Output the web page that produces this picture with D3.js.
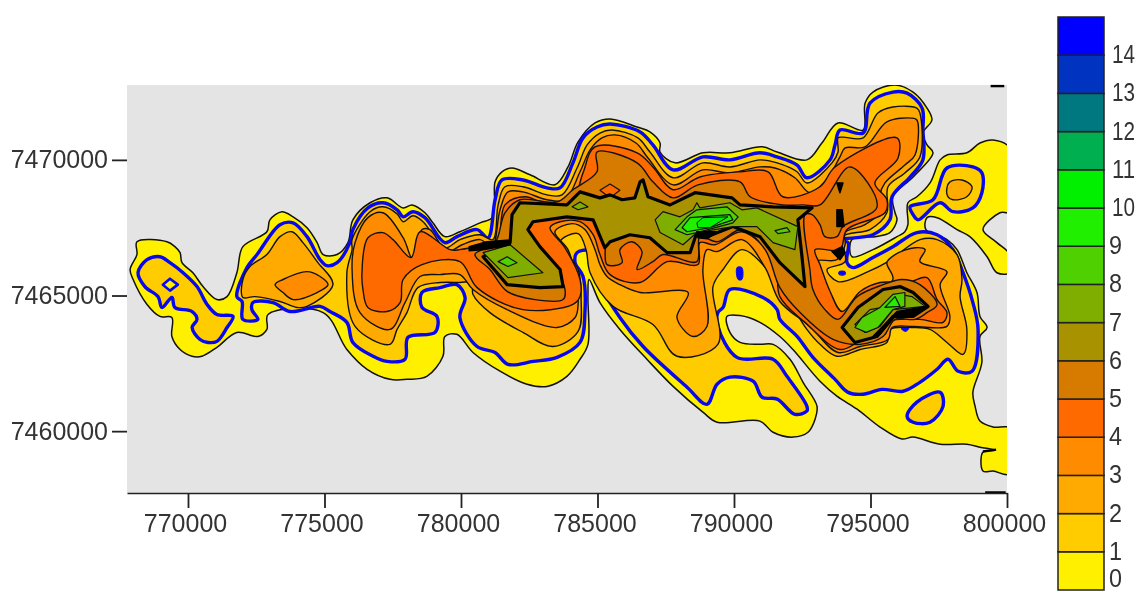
<!DOCTYPE html>
<html><head><meta charset="utf-8">
<script src="https://cdn.jsdelivr.net/npm/d3@7/dist/d3.min.js"></script>
<style>html,body{margin:0;padding:0;background:#fff;overflow:hidden}svg{display:block;filter:blur(0.4px)}text{font-family:"Liberation Sans",Arial,sans-serif;fill:#333}</style>
</head><body><svg id="c" width="1139" height="593"></svg>
<script>
// Contour vertices are [easting, northing] in km relative to the map origin below.
const originE=770000, originN=7460000;
const xTicks=[770000,775000,780000,785000,790000,795000,800000];
const yTicks=[7460000,7465000,7470000];
const legendLevels=[0,1,2,3,4,5,6,7,8,9,10,11,12,13,14];
const levelColors=["#fff000","#ffcc00","#ffaa00","#ff8c00","#ff6a00","#d67a00","#a89200","#7fae00","#4fd000","#20f000","#00f000","#00b050","#007880","#0033c0","#0000ff"];

const level0=[[[-1.87,6.98],[-0.77,6.98],[-0.48,6.80],[-0.29,6.58],[-0.22,6.21],[0.18,5.84],[0.55,5.33],[1.06,4.85],[1.43,4.96],[1.79,5.84],[2.01,6.80],[2.89,7.35],[3.00,7.79],[3.44,8.09],[3.85,7.90],[4.36,7.50],[4.73,6.95],[4.95,6.51],[5.46,6.51],[5.86,6.95],[6.04,7.79],[6.67,8.42],[7.29,8.60],[7.88,8.23],[8.21,8.34],[8.68,8.05],[8.97,7.68],[9.41,7.17],[9.96,7.35],[10.70,7.68],[11.17,7.90],[11.25,9.19],[11.50,9.56],[11.87,9.70],[12.53,9.45],[13.44,9.08],[13.92,9.74],[14.29,10.66],[14.91,11.36],[15.46,11.51],[16.45,11.21],[16.92,11.03],[17.29,10.62],[17.29,10.29],[17.84,9.89],[18.86,10.26],[19.85,10.26],[21.03,10.48],[21.58,10.29],[22.67,10.00],[23.22,10.62],[23.81,11.36],[24.73,11.10],[24.80,12.09],[25.09,12.50],[25.90,12.76],[26.56,12.50],[27.07,11.91],[27.25,11.47],[26.92,10.99],[27.07,10.55],[27.29,10.26],[26.56,9.37],[25.82,8.64],[25.90,8.05],[25.97,7.79],[25.71,7.32],[25.16,7.17],[24.32,7.06],[24.32,6.43],[25.09,6.69],[25.97,7.17],[26.26,7.35],[26.37,7.61],[26.37,8.42],[26.70,8.64],[27.18,9.15],[27.55,10.00],[27.80,10.18],[28.53,10.26],[29.01,10.62],[29.49,10.73],[30.10,10.44],[30.10,8.09],[29.74,8.05],[29.12,7.43],[29.63,6.95],[30.10,6.51],[30.10,5.84],[29.63,5.84],[29.27,6.43],[28.64,7.17],[28.17,7.43],[27.44,7.87],[27.07,7.87],[27.03,7.43],[27.80,7.06],[28.17,6.69],[28.53,5.84],[28.90,5.11],[29.01,4.23],[29.27,3.82],[29.01,3.49],[29.08,2.54],[28.75,1.43],[28.83,0.92],[29.01,0.37],[29.49,0.15],[30.10,0.11],[30.10,-1.58],[29.49,-1.47],[29.12,-1.47],[29.12,-0.77],[29.56,-0.70],[29.01,-0.59],[28.53,-0.48],[27.55,-0.48],[26.56,-0.22],[26.15,-0.29],[25.35,0.15],[24.51,0.81],[23.77,1.29],[23.15,1.84],[22.16,3.01],[21.68,3.49],[20.95,4.01],[20.22,4.26],[19.74,4.23],[19.85,3.64],[20.22,3.27],[20.95,3.20],[21.43,3.20],[22.05,2.65],[22.53,1.80],[23.04,0.92],[22.97,0.44],[22.71,-0.04],[22.16,-0.22],[21.43,-0.04],[20.95,0.37],[19.38,0.33],[18.86,0.70],[17.77,1.65],[16.81,2.65],[15.82,3.75],[15.09,4.74],[14.69,5.59],[14.65,4.96],[14.65,3.20],[14.36,2.65],[13.88,2.02],[13.15,1.65],[12.42,1.73],[11.43,2.21],[10.44,2.90],[9.85,3.57],[9.41,3.49],[9.34,2.76],[8.75,2.02],[8.02,1.91],[7.40,1.91],[6.56,2.28],[5.82,3.01],[4.95,4.37],[2.93,4.30],[2.89,3.75],[2.56,3.49],[1.79,3.64],[1.06,3.09],[0.51,2.76],[0.15,2.76],[-0.29,3.01],[-0.59,3.49],[-0.59,4.19],[-1.03,4.23],[-1.50,4.67],[-2.01,5.59],[-2.12,5.96],[-1.87,6.51]]];

const level1=[
[[-1.83,5.84],[-1.50,6.32],[-1.03,6.43],[-0.66,6.21],[-0.18,5.84],[0.33,5.33],[0.70,4.67],[1.06,4.30],[1.65,4.23],[1.43,3.82],[1.06,3.31],[0.73,3.27],[0.44,3.38],[0.15,3.82],[0.33,4.12],[0.15,4.41],[-0.48,4.56],[-0.59,4.93],[-0.95,4.56],[-1.10,4.96],[-1.58,5.33]],
[[1.79,4.96],[2.16,6.03],[2.53,6.51],[3.37,7.61],[3.85,7.68],[4.36,7.17],[4.84,6.32],[5.09,6.10],[5.46,6.21],[5.93,6.95],[6.04,7.43],[6.59,8.23],[7.14,8.42],[7.66,8.16],[7.88,7.90],[8.24,8.09],[8.68,7.87],[9.41,6.95],[9.85,7.17],[10.59,7.43],[10.99,7.13],[11.25,8.53],[11.50,9.26],[12.27,9.26],[13.15,8.97],[13.63,8.97],[14.10,9.89],[14.47,10.81],[14.98,11.21],[15.46,11.32],[16.56,11.03],[17.03,10.55],[17.77,9.63],[18.86,10.11],[19.85,10.00],[20.95,10.26],[21.58,10.11],[22.31,9.81],[22.67,9.34],[23.52,10.00],[23.70,10.55],[23.88,11.10],[24.73,10.99],[24.98,12.09],[25.82,12.50],[26.34,12.46],[26.89,11.91],[26.92,11.10],[26.92,10.00],[26.45,9.37],[25.79,8.64],[25.71,7.79],[25.09,7.24],[23.96,7.06],[24.18,6.95],[24.14,6.21],[24.36,6.03],[25.09,6.40],[25.82,6.80],[26.70,7.32],[27.44,7.24],[28.02,6.69],[28.39,5.84],[28.75,4.74],[28.94,3.75],[28.72,2.21],[28.21,2.21],[27.84,2.65],[27.44,2.28],[26.81,1.80],[26.19,1.47],[25.42,1.54],[24.73,1.36],[24.18,1.43],[23.70,1.91],[22.89,2.72],[22.31,3.49],[21.68,4.12],[21.58,4.48],[21.06,4.93],[19.85,5.22],[19.60,4.56],[19.41,4.37],[19.41,3.86],[20.11,2.72],[21.43,2.65],[21.94,2.02],[22.67,0.92],[22.67,0.74],[22.23,0.62],[21.58,1.18],[21.03,1.25],[20.70,1.84],[19.85,1.99],[19.38,1.73],[19.01,0.99],[18.28,1.62],[16.67,3.12],[15.82,4.19],[14.73,6.07],[14.65,6.65],[14.25,6.58],[14.18,6.21],[14.47,5.70],[14.54,4.37],[14.36,3.27],[13.52,2.72],[12.64,2.57],[11.72,2.46],[11.25,2.90],[10.59,3.12],[9.96,4.19],[10.15,4.93],[9.85,5.40],[9.23,5.29],[8.57,5.11],[8.57,4.56],[9.12,4.23],[9.05,3.64],[8.06,3.46],[7.95,2.65],[7.29,2.57],[6.78,2.76],[6.04,3.27],[5.82,4.01],[5.20,4.41],[4.84,4.60],[3.74,4.41],[3.11,4.74],[2.38,4.74],[2.34,4.48],[2.56,4.12],[2.01,4.12],[1.98,4.78]],
[[26.45,8.27],[27.29,8.53],[27.80,9.70],[28.75,9.74],[29.08,9.52],[29.08,8.79],[28.75,8.23],[28.02,8.09],[27.55,8.42],[26.74,7.79],[26.56,7.98]],
[[26.34,0.55],[26.70,1.07],[27.55,1.43],[27.66,0.92],[27.18,0.33],[26.56,0.33]]];
const level1Holes=[[[-0.92,5.40],[-0.66,5.62],[-0.37,5.40],[-0.66,5.18]]];
const blueSpots=[[[20.11,6.03],[20.29,6.03],[20.29,5.59],[20.15,5.59]],[[23.85,5.88],[24.07,5.88],[24.07,5.77],[23.85,5.77]],[[26.15,3.86],[26.30,4.01],[26.41,3.82],[26.30,3.68],[26.15,3.75]]];

const level2=[
[[2.01,5.59],[2.27,6.07],[2.89,6.51],[3.37,7.17],[3.81,7.35],[4.21,6.95],[4.73,6.25],[5.31,5.40],[4.36,4.60],[3.99,4.56],[3.37,4.78],[2.45,4.96],[2.01,4.93]],
[[27.80,8.97],[27.91,9.19],[28.35,9.26],[28.72,9.01],[28.53,8.64],[28.02,8.53],[27.84,8.64]],
[[5.82,5.84],[6.01,6.69],[6.01,7.06],[6.67,8.09],[7.14,8.27],[7.66,8.01],[7.88,7.72],[8.24,7.94],[8.61,7.72],[9.41,6.76],[9.96,7.06],[10.70,7.24],[11.17,7.06],[11.36,8.34],[11.61,9.01],[12.27,9.01],[13.15,8.71],[13.70,8.71],[14.25,9.70],[14.62,10.55],[15.09,10.99],[15.53,11.10],[16.48,10.81],[16.92,10.29],[17.77,9.34],[18.86,9.89],[19.85,9.74],[20.95,10.00],[21.58,9.89],[22.31,9.56],[22.67,9.15],[23.59,9.89],[23.81,10.29],[23.81,10.81],[23.99,10.84],[24.73,10.81],[25.27,11.73],[25.82,11.95],[26.70,11.91],[26.81,11.73],[26.81,10.11],[26.26,9.52],[25.64,9.01],[25.60,8.05],[24.98,7.43],[23.99,7.17],[24.07,6.25],[23.41,5.96],[23.81,5.51],[24.91,5.88],[25.64,6.25],[26.81,7.06],[27.44,7.06],[28.17,6.51],[28.35,5.59],[28.28,4.96],[28.53,3.75],[28.39,2.83],[27.80,3.27],[27.18,3.75],[26.56,3.82],[25.71,3.75],[25.60,3.27],[24.62,3.01],[23.77,2.76],[23.15,3.20],[22.67,3.75],[22.05,4.74],[21.32,5.84],[20.29,6.69],[19.60,5.96],[19.23,5.33],[19.41,3.20],[17.91,2.76],[17.03,3.93],[15.57,4.60],[14.73,5.84],[14.58,6.69],[14.29,7.28],[13.63,6.98],[14.29,5.96],[14.40,4.85],[14.29,3.68],[13.37,3.12],[12.27,3.64],[11.06,4.37],[10.44,5.04],[10.40,5.48],[9.96,5.48],[9.23,5.48],[8.42,5.29],[8.02,4.37],[7.66,3.75],[7.40,3.20],[6.12,3.86]]];

const level3=[
[[3.19,5.40],[3.48,5.59],[4.36,5.88],[4.84,5.70],[5.13,5.40],[4.73,5.11],[3.85,4.85],[3.48,5.11]],
[[6.01,5.96],[6.12,6.95],[6.59,7.87],[7.14,8.05],[7.88,7.13],[8.24,6.32],[8.57,7.43],[8.86,7.43],[9.49,6.62],[10.04,6.87],[10.70,7.06],[11.14,6.80],[11.43,8.16],[11.72,8.82],[12.27,8.82],[13.15,8.53],[13.81,8.53],[14.36,9.56],[14.73,10.37],[15.16,10.81],[15.64,10.92],[16.41,10.62],[16.85,10.07],[17.77,9.08],[18.86,9.63],[19.85,9.52],[20.95,9.74],[21.50,9.70],[22.23,9.34],[22.78,8.79],[23.44,9.34],[23.88,10.11],[24.07,10.44],[24.80,10.48],[25.60,11.40],[26.52,11.54],[26.70,11.47],[26.63,10.18],[26.26,9.81],[25.53,9.15],[25.35,8.71],[25.42,8.16],[24.80,7.61],[24.07,7.32],[24.07,6.87],[23.77,6.32],[22.97,6.25],[23.33,5.22],[23.81,4.19],[24.62,4.85],[25.82,5.59],[25.60,6.21],[25.90,6.51],[26.63,6.76],[27.00,6.69],[26.81,6.25],[27.80,5.88],[27.55,5.40],[27.91,4.23],[27.80,3.86],[26.56,3.86],[25.79,3.82],[25.64,3.38],[24.62,3.12],[23.81,2.90],[22.78,3.86],[21.68,4.78],[21.14,6.03],[20.29,7.06],[19.38,6.62],[19.01,6.69],[18.86,5.96],[19.01,3.86],[18.50,3.49],[17.91,4.19],[18.32,5.11],[16.56,5.11],[15.82,5.40],[15.35,5.70],[15.09,6.14],[14.91,6.69],[14.54,7.43],[14.07,7.65],[13.44,7.35],[13.92,6.69],[14.18,5.77],[14.29,4.67],[14.18,4.19],[13.52,3.82],[11.69,4.48],[10.44,5.22],[9.96,5.77],[9.23,5.77],[8.50,5.70],[7.95,4.74],[7.40,3.75],[6.30,4.37]]];

const level4=[
[[6.37,5.77],[6.59,7.13],[7.14,7.32],[7.51,7.06],[8.17,6.40],[8.50,7.35],[9.60,6.69],[9.96,6.69],[10.88,6.87],[11.32,6.87],[11.61,8.34],[12.34,8.64],[13.15,8.34],[13.99,8.23],[14.47,9.52],[14.91,10.48],[16.45,10.26],[17.03,9.74],[17.77,8.90],[18.75,9.37],[20.22,9.56],[21.25,9.56],[21.79,8.64],[23.15,9.01],[23.70,9.74],[25.97,10.81],[26.01,10.07],[25.16,9.15],[25.60,8.53],[25.53,8.05],[24.14,7.43],[23.88,6.69],[22.97,6.69],[23.15,6.14],[23.52,5.15],[23.96,4.41],[24.62,5.15],[25.35,5.48],[26.37,5.48],[27.07,5.66],[27.44,4.85],[27.80,4.37],[27.66,4.01],[26.81,4.12],[25.71,4.04],[25.53,3.57],[24.62,3.31],[23.88,3.01],[22.60,4.01],[21.68,4.96],[21.50,6.25],[20.29,7.35],[19.30,6.87],[18.75,6.95],[18.68,6.14],[17.55,6.25],[16.56,5.48],[15.46,5.77],[15.09,6.51],[14.84,7.24],[14.36,7.72],[13.63,7.72],[13.26,7.50],[13.81,6.76],[14.36,5.59],[14.36,4.96],[14.10,4.67],[12.27,4.48],[10.59,5.29],[9.96,6.25],[8.57,6.14],[7.88,5.59],[7.77,4.74],[7.29,4.41],[6.59,4.56],[6.41,5.22]]];

const level5=[
[[10.51,6.51],[11.25,6.95],[11.61,8.05],[12.16,8.53],[13.52,8.45],[14.10,8.90],[14.98,9.56],[14.98,10.29],[16.45,9.89],[17.03,9.19],[17.77,8.60],[18.68,9.08],[20.22,9.19],[20.59,8.64],[21.79,8.34],[22.53,8.34],[23.15,8.34],[24.25,9.74],[25.24,8.27],[23.99,7.54],[23.77,7.17],[23.33,7.17],[23.15,7.61],[22.86,7.98],[22.60,7.98],[22.78,5.96],[22.89,5.22],[23.33,4.48],[23.81,4.12],[24.51,4.96],[25.46,5.40],[26.15,5.59],[26.81,5.40],[27.44,4.67],[27.07,4.37],[26.63,4.12],[25.90,4.12],[25.46,3.49],[24.62,3.20],[23.63,3.38],[22.42,4.37],[21.68,5.29],[21.14,6.69],[20.29,7.43],[19.38,6.98],[18.75,7.17],[18.64,6.25],[17.40,6.51],[17.03,6.25],[16.45,5.96],[16.63,6.62],[16.26,6.98],[15.82,6.69],[15.90,6.21],[15.35,6.14],[15.27,6.95],[15.09,7.61],[14.73,7.90],[13.81,8.05],[12.53,7.90],[12.23,7.43],[12.71,6.80],[13.44,5.96],[13.81,5.22],[13.74,4.85],[12.71,4.85],[11.69,5.15],[11.06,5.96]]];
const level4Spots=[[[15.09,8.88],[15.46,9.11],[15.82,8.88],[15.46,8.60]]];

const level6=[
[[11.87,7.98],[12.16,8.42],[13.88,8.34],[14.36,8.82],[15.09,8.60],[15.46,8.71],[15.90,8.53],[16.37,8.60],[16.56,9.19],[16.67,9.26],[16.85,8.64],[17.66,8.34],[18.57,8.79],[19.93,8.60],[20.22,8.34],[21.43,8.27],[22.86,8.23],[22.34,7.79],[22.49,6.43],[22.60,5.33],[21.68,6.21],[20.95,7.17],[19.96,7.54],[19.01,7.17],[18.64,7.32],[18.39,6.58],[17.55,6.58],[16.92,7.13],[16.19,7.24],[15.46,6.98],[15.27,6.76],[14.84,7.79],[13.88,7.90],[12.64,7.72],[12.45,7.43],[12.89,6.80],[13.63,5.96],[13.74,5.33],[12.89,5.29],[11.69,5.40],[10.81,6.43],[11.80,6.95]],
[[23.96,3.82],[24.54,4.56],[25.46,5.22],[26.08,5.33],[26.56,5.11],[27.11,4.60],[26.56,4.23],[25.82,4.23],[25.24,3.49],[24.43,3.27]]];
const level7=[
[[10.81,6.58],[11.80,6.87],[13.00,5.84],[11.72,5.66]],
[[14.07,8.27],[14.36,8.45],[14.65,8.27],[14.29,8.16]],
[[17.11,7.79],[17.40,8.09],[18.02,7.90],[18.50,8.16],[18.64,8.42],[18.75,8.23],[19.85,8.42],[20.29,8.16],[20.84,8.23],[22.34,7.54],[22.23,6.69],[21.43,6.95],[20.84,7.54],[19.96,7.54],[18.64,7.32],[18.13,6.87],[17.29,7.32]],
[[24.43,3.93],[24.98,4.48],[25.46,4.56],[25.82,4.96],[26.08,5.04],[26.52,4.96],[27.00,4.60],[25.82,4.48],[25.35,3.86],[24.80,3.64]]];
const level8=[
[[11.36,6.25],[11.69,6.43],[12.05,6.21],[11.72,6.07]],
[[17.84,7.43],[18.28,7.90],[18.64,8.16],[19.74,8.27],[20.15,7.90],[19.96,7.68],[18.64,7.32],[18.28,7.24]],
[[21.50,7.39],[21.94,7.50],[22.05,7.35],[21.61,7.28]],
[[24.43,3.82],[24.69,4.19],[25.35,4.56],[25.82,5.04],[26.26,5.11],[26.26,4.60],[25.82,4.48],[25.27,3.82],[24.84,3.64]]];
const level9=[
[[18.10,7.50],[18.39,7.87],[19.85,7.98],[19.96,7.79],[19.12,7.50],[18.28,7.35]],
[[25.53,4.56],[25.90,4.96],[26.08,4.60]]];
const level10=[[[18.64,7.68],[18.86,7.87],[19.78,7.90],[19.12,7.50],[18.68,7.50]]];
const denseContours=[
[[10.30,6.80],[10.95,6.98],[11.80,7.05],[11.80,6.87],[10.88,6.70],[10.30,6.65]],
[[18.64,7.35],[19.38,7.35],[19.01,7.09],[18.68,7.13]],
[[23.77,9.15],[23.99,9.15],[23.88,8.79]],
[[23.77,8.16],[23.96,8.16],[24.03,7.54],[23.77,7.54]],
[[23.59,6.62],[23.96,6.80],[24.07,6.58],[23.88,6.32]],
[[25.97,4.41],[27.11,4.60],[26.56,4.23],[25.90,4.23],[25.35,3.57],[25.09,3.49]]];
const edgeMarks=[[[29.4,12.72],[29.9,12.72]],[[29.2,-2.26],[29.95,-2.26]],[[29.12,-0.75],[29.6,-0.68]]];

const svg=d3.select("#c");
const x=d3.scaleLinear().domain([767766,800000]).range([127,1007]);
const y=d3.scaleLinear().domain([7457720,7472760]).range([493,85]);
const px=d=>x(originE+d[0]*1000), py=d=>y(originN+d[1]*1000);
const smooth=d3.line().x(px).y(py).curve(d3.curveCatmullRomClosed.alpha(0.5));
const sharp=d3.line().x(px).y(py).curve(d3.curveLinearClosed);
const open=d3.line().x(px).y(py);

svg.append("defs").append("clipPath").attr("id","plot").append("rect")
  .attr("x",x.range()[0]).attr("y",y.range()[1]).attr("width",x.range()[1]-x.range()[0]).attr("height",y.range()[0]-y.range()[1]);
svg.append("rect").attr("x",x.range()[0]).attr("y",y.range()[1]).attr("width",x.range()[1]-x.range()[0]).attr("height",y.range()[0]-y.range()[1]).attr("fill","#e4e4e4");

const map=svg.append("g").attr("clip-path","url(#plot)");
const layers=[
 [level0,levelColors[0],"#111",1.5,smooth],
 [level1,levelColors[1],"#0808f0",3.4,smooth],
 [level1Holes,levelColors[0],"#0808f0",2.6,sharp],
 [blueSpots,"#0808f0","#0808f0",1,smooth],
 [level2,levelColors[2],"#111",1.4,smooth],
 [level3,levelColors[3],"#111",1.4,smooth],
 [level4,levelColors[4],"#111",1.4,smooth],
 [level5,levelColors[5],"#111",1.4,smooth],
 [level4Spots,levelColors[4],"#111",1.2,sharp],
 [level6,levelColors[6],"#000",3.2,sharp],
 [level7,levelColors[7],"#111",1.2,sharp],
 [level8,levelColors[8],"#111",1.2,sharp],
 [level9,levelColors[9],"#111",1.2,sharp],
 [level10,levelColors[10],"#111",1,sharp],
 [denseContours,"#000","#000",1.5,sharp]
];
layers.forEach(([polys,fill,stroke,w,gen])=>{
  map.append("g").selectAll("path").data(polys).join("path")
    .attr("d",gen).attr("fill",fill).attr("stroke",stroke).attr("stroke-width",w).attr("stroke-linejoin","round");
});
svg.append("g").selectAll("path").data(edgeMarks).join("path").attr("d",open).attr("fill","none").attr("stroke","#000").attr("stroke-width",2.4);

const ax=svg.append("g").attr("transform",`translate(0,${y.range()[0]})`).call(d3.axisBottom(x).tickValues(xTicks).tickFormat(d3.format("d")).tickSize(15).tickSizeOuter(0).tickPadding(6));
const ay=svg.append("g").attr("transform",`translate(${x.range()[0]},0)`).call(d3.axisLeft(y).tickValues(yTicks).tickFormat(d3.format("d")).tickSize(15).tickPadding(4));
ay.select(".domain").remove();
[ax,ay].forEach(a=>{a.selectAll("text").attr("font-size",25).style("font-family",'"Liberation Sans",Arial,sans-serif').attr("fill","#333");a.selectAll("line").attr("stroke","#222").attr("stroke-width",1.8);});
ax.selectAll("text").attr("dx",-3);
ax.select(".domain").attr("stroke","#222").attr("stroke-width",1.6);

const ly=d3.scaleLinear().domain([0,15]).range([590,17]);
const lg=svg.append("g");
lg.selectAll("rect").data(legendLevels).join("rect")
  .attr("x",1058).attr("width",46).attr("y",d=>ly(d+1)).attr("height",d=>ly(d)-ly(d+1))
  .attr("fill",d=>levelColors[d]).attr("stroke","#222").attr("stroke-width",1.5);
lg.selectAll("text").data(legendLevels).join("text")
  .attr("x",d=>d>=10?1112:1109).attr("y",d=>Math.min(ly(d)-1,578)).attr("dy","0.36em").attr("font-size",25)
  .attr("textLength",d=>d>=10?23:13).attr("lengthAdjust","spacingAndGlyphs").text(d=>d);
</script></body></html>
